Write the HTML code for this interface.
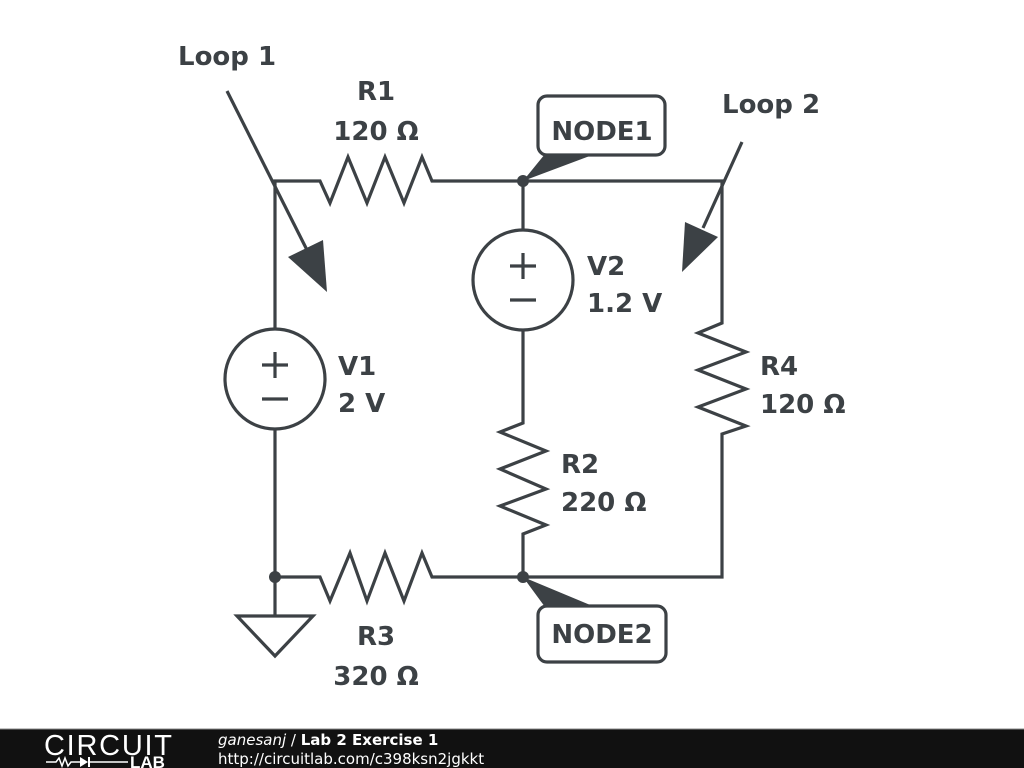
<!DOCTYPE html>
<html><head><meta charset="utf-8"><style>
html,body{margin:0;padding:0;background:#fff;width:1024px;height:768px;overflow:hidden}
svg{display:block}
text{font-family:"DejaVu Sans","Liberation Sans",sans-serif;font-weight:bold;fill:#3c4145}
</style></head><body>
<svg width="1024" height="768" viewBox="0 0 1024 768">
<g stroke="#3c4145" stroke-width="3.2" fill="none" stroke-linejoin="miter">
<polyline points="275,577 275,181 320,181 330,203 348,157 367,203 385,157 404,203 422,157 432,181 722,181 722,323 698,333 746,352 698,370 746,389 698,407 746,426 722,434 722,577 432,577 422,553 404,601 385,553 367,601 350,553 330,601 320,577 275,577"/>
<polyline points="523,181 523,230"/>
<polyline points="523,330 523,423 500,432 546,451 500,469 546,489 500,506 546,525 523,534 523,577"/>
<circle cx="523" cy="280" r="50" fill="#fff"/>
<circle cx="275" cy="379" r="50" fill="#fff"/>
<line x1="510" y1="266" x2="536" y2="266"/><line x1="523" y1="253" x2="523" y2="279"/>
<line x1="510" y1="300" x2="536" y2="300"/>
<line x1="262" y1="365" x2="288" y2="365"/><line x1="275" y1="352" x2="275" y2="378"/>
<line x1="262" y1="399" x2="288" y2="399"/>
<line x1="275" y1="577" x2="275" y2="616"/>
<polygon points="237,616 313,616 275,656"/>
<line x1="227" y1="91" x2="308" y2="252"/>
<line x1="742" y1="142" x2="703" y2="228"/>
<rect x="538" y="96" width="127" height="59" rx="9" fill="#fff"/>
<rect x="538" y="606" width="128" height="56" rx="9" fill="#fff"/>
</g>
<g fill="#3c4145">
<polygon points="288,257 323,240 327,292"/>
<polygon points="685,222 718,237 682,272"/>
<circle cx="523" cy="181" r="6"/>
<circle cx="275" cy="577" r="6"/>
<circle cx="523" cy="577" r="6"/>
<polygon points="523,181 545,154 595,154"/>
<polygon points="523,577 545,607 595,607"/>
</g>
<g font-size="26">
<text x="178" y="65">Loop 1</text>
<text x="376" y="100" text-anchor="middle">R1</text>
<text x="376" y="140" text-anchor="middle">120 Ω</text>
<text x="722" y="113">Loop 2</text>
<text x="602" y="140" text-anchor="middle">NODE1</text>
<text x="587" y="275">V2</text>
<text x="587" y="312">1.2 V</text>
<text x="338" y="375">V1</text>
<text x="338" y="412">2 V</text>
<text x="760" y="375">R4</text>
<text x="760" y="413">120 Ω</text>
<text x="561" y="473">R2</text>
<text x="561" y="511">220 Ω</text>
<text x="602" y="643" text-anchor="middle">NODE2</text>
<text x="376" y="645" text-anchor="middle">R3</text>
<text x="376" y="685" text-anchor="middle">320 Ω</text>
</g>
<rect x="0" y="729" width="1024" height="39" fill="#111"/>
<line x1="0" y1="729" x2="1024" y2="729" stroke="#888" stroke-width="1"/>
<text x="44" y="755" font-size="29" textLength="128" style="font-family:'Liberation Sans',sans-serif;font-weight:normal;fill:#fff">CIRCUIT</text>
<polyline points="46,762 56,762 59,758 62,766 65,758 68,766 71,762 80,762" stroke="#fff" stroke-width="1.5" fill="none"/>
<polygon points="80,757 80,767 88,762" fill="#fff"/>
<line x1="89" y1="757" x2="89" y2="767" stroke="#fff" stroke-width="2"/>
<line x1="89" y1="762" x2="128" y2="762" stroke="#fff" stroke-width="1.5"/>
<text x="130" y="768" font-size="17" style="font-family:'Liberation Sans',sans-serif;fill:#fff">LAB</text>
<text x="218" y="745" font-size="15" style="fill:#fff;font-weight:normal"><tspan font-style="italic">ganesanj</tspan> / <tspan font-weight="bold">Lab 2 Exercise 1</tspan></text>
<text x="218" y="764" font-size="15" style="fill:#fff;font-weight:normal">http://circuitlab.com/c398ksn2jgkkt</text>
</svg>
</body></html>
